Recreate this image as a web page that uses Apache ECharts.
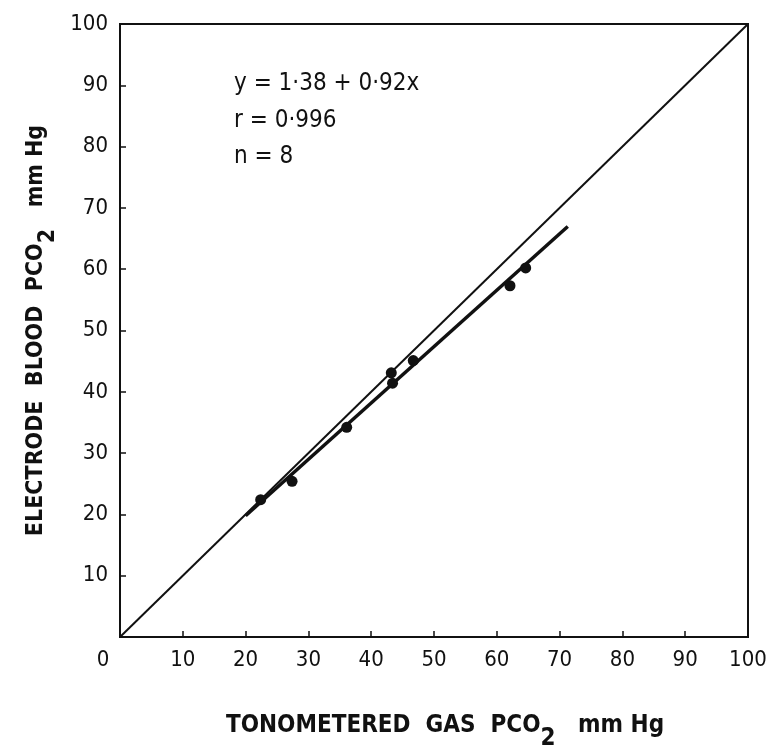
<!DOCTYPE html>
<html>
<head>
<meta charset="utf-8">
<script src="https://cdn.jsdelivr.net/npm/echarts@6/dist/echarts.min.js"></script>
<style>
  html, body { margin: 0; padding: 0; background: #fff; }
  #chart { width: 770px; height: 756px; }
</style>
</head>
<body>
<div id="chart"></div>
<script>
// tonometered gas PCO2 (x) vs electrode blood PCO2 (y), mmHg
const gasPco2 = [22.4, 27.4, 36.1, 43.2, 43.4, 46.7, 62.1, 64.6];
const bloodPco2 = [22.4, 25.4, 34.2, 43.1, 41.4, 45.1, 57.3, 60.2];
// regression y = 1.38 + 0.92x, drawn over the measured range
const fitX = [20, 71.3];
const fitY = fitX.map(x => 1.38 + 0.92 * x);
// line of identity
const identX = [0, 100];
const identY = [0, 100];

const ink = "#111";
const titleFont = "DejaVu Sans Condensed";
const chart = echarts.init(document.getElementById("chart"));

let option = {
  backgroundColor: "#fff",
  animation: false,
  grid: {
    left: 120,
    right: 22,
    top: 24,
    bottom: 119,
    show: true,
    borderColor: ink,
    borderWidth: 2,
  },
  xAxis: {
    type: "value",
    min: 0,
    max: 100,
    interval: 10,
    name: "{p|}{a|TONOMETERED  GAS  PCO}{s|2}{a|   mm Hg}",
    nameLocation: "middle",
    nameGap: 64,
    nameTextStyle: {
      rich: {
        p: { width: 22 },
        a: { fontFamily: titleFont, fontWeight: "bold", fontSize: 24, color: ink },
        s: { fontFamily: titleFont, fontWeight: "bold", fontSize: 24, color: ink, padding: [26, 0, 0, 0] },
      },
    },
    splitLine: { show: false },
    axisLine: { lineStyle: { color: ink, width: 2 } },
    axisTick: { inside: true, length: 6, lineStyle: { color: ink, width: 1.5 } },
    axisLabel: {
      margin: 12,
      fontFamily: titleFont,
      fontSize: 22,
      color: ink,
      formatter: function (v) {
        return v === 0 ? "{z|0}" : String(v);
      },
      rich: { z: { fontFamily: titleFont, fontSize: 22, color: ink, padding: [0, 34, 0, 0] } },
    },
  },
  yAxis: {
    type: "value",
    min: 0,
    max: 100,
    interval: 10,
    name: "{a|ELECTRODE  BLOOD  PCO}{s|2}{a|   mm Hg}",
    nameLocation: "middle",
    nameRotate: 90,
    nameGap: 58,
    nameTextStyle: {
      rich: {
        a: { fontFamily: titleFont, fontWeight: "bold", fontSize: 23, color: ink },
        s: { fontFamily: titleFont, fontWeight: "bold", fontSize: 23, color: ink, padding: [24, 0, 0, 0] },
      },
    },
    splitLine: { show: false },
    axisLine: { lineStyle: { color: ink, width: 2 } },
    axisTick: { inside: true, length: 6, lineStyle: { color: ink, width: 1.5 } },
    axisLabel: {
      margin: 12,
      fontFamily: titleFont,
      fontSize: 22,
      color: ink,
      showMinLabel: false,
    },
  },
  graphic: [
    {
      type: "group",
      left: 234,
      top: 72,
      children: [
        { type: "text", left: 0, top: 0, style: { text: "y = 1·38 + 0·92x", font: "24px " + titleFont, fill: ink } },
        { type: "text", left: 0, top: 37, style: { text: "r = 0·996", font: "24px " + titleFont, fill: ink } },
        { type: "text", left: 0, top: 73, style: { text: "n = 8", font: "24px " + titleFont, fill: ink } },
      ],
    },
  ],
  series: [
    {
      name: "identity",
      type: "line",
      data: identX.map((x, i) => [x, identY[i]]),
      symbol: "none",
      lineStyle: { color: ink, width: 2 },
      z: 2,
    },
    {
      name: "fit",
      type: "line",
      data: fitX.map((x, i) => [x, fitY[i]]),
      symbol: "none",
      lineStyle: { color: ink, width: 3.5 },
      z: 3,
    },
    {
      name: "samples",
      type: "scatter",
      data: gasPco2.map((x, i) => [x, bloodPco2[i]]),
      symbol: "circle",
      symbolSize: 11,
      itemStyle: { color: ink, opacity: 1 },
      z: 4,
    },
  ],
};

chart.setOption(option);
</script>
</body>
</html>
